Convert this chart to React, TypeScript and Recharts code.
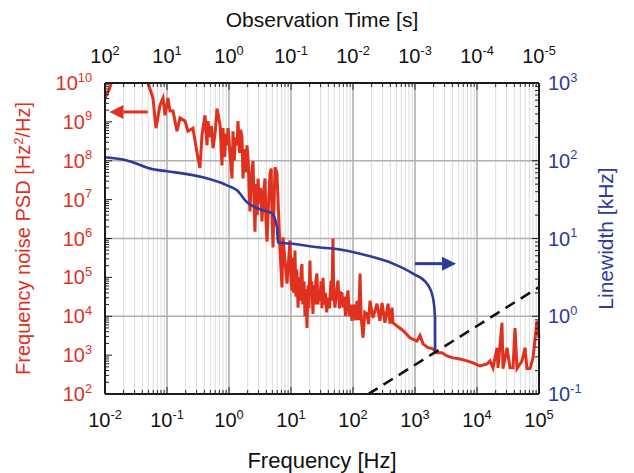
import React from 'react';
import { LineChart, Line, XAxis, YAxis, CartesianGrid, ReferenceLine, Label } from 'recharts';

const RED = '#e0311f';
const BLUE = '#2d3b9b';
const FONT = '"Liberation Sans", Arial, Helvetica, sans-serif';

// frequency noise PSD [Hz^2/Hz] vs Fourier frequency [Hz]
const psdFreq = [
  0.01, 0.0116, 0.0135, 0.0174, 0.0367, 0.0494, 0.0594, 0.0665, 0.0771, 0.0861,
  0.0929, 0.1038, 0.1117, 0.125, 0.145, 0.162, 0.195, 0.218, 0.262, 0.316,
  0.34, 0.367, 0.41, 0.442, 0.458, 0.49, 0.519, 0.552, 0.596, 0.64,
  0.716, 0.741, 0.771, 0.8, 0.851, 0.891, 0.929, 0.964, 1.117, 1.161,
  1.216, 1.274, 1.346, 1.396, 1.479, 1.549, 1.622, 1.683, 1.778, 1.862,
  1.95, 2.042, 2.113, 2.18, 2.291, 2.44, 2.512, 2.62, 2.754, 2.851,
  2.94, 3.09, 3.236, 3.4, 3.589, 3.81, 3.936, 4.1, 4.315, 4.58,
  4.786, 4.955, 5.13, 5.52, 5.94, 6.65, 7.16, 7.43, 8.61, 9.64,
  10.0, 10.4, 10.7, 11.1, 11.6, 12.0, 12.4, 13.0, 13.5, 14.0,
  14.5, 15.0, 15.5, 16.2, 16.8, 17.4, 18.1, 18.8, 19.5, 20.2,
  20.9, 21.6, 22.6, 23.4, 24.3, 25.1, 26.2, 27.2, 28.2, 29.4,
  30.5, 31.6, 32.8, 34.3, 35.9, 37.6, 39.5, 41.7, 44.2, 45.7,
  47.5, 49.0, 51.3, 53.7, 57.3, 60.3, 63.1, 66.5, 69.0, 72.4,
  75.9, 79.4, 83.0, 87.1, 91.2, 96.4, 102, 110, 116, 123,
  130, 135, 145, 155, 168, 178, 188, 210, 244, 272,
  294, 328, 367, 395, 426, 442, 513, 640, 830, 1076,
  1205, 1346, 1622, 1950, 2265, 2720, 3280, 4100, 5320, 6900,
  8610, 11170, 14490, 16220, 18110, 21040, 21830, 25290, 26240, 30480,
  34040, 38110, 41020, 44160, 53210, 59430, 63970, 71610, 79980, 92900,
  100000,
];
const psdValue = [
  4.1e9, 6.6e9, 1.35e10, 4e10, 4e10, 1.0e10, 4.1e9, 6.9e8, 2.7e9, 4.1e9,
  1.48e9, 4.1e9, 1.9e9, 1.9e9, 5.75e8, 1.26e9, 1.05e9, 5.75e8, 6.9e8, 1.15e8,
  6.5e7, 4.6e8, 1.48e9, 2.5e8, 1.05e9, 4e8, 7.9e8, 2.1e8, 5e8, 2.2e9,
  8.3e8, 3.2e8, 7.6e7, 6.9e8, 1.26e8, 5e8, 2.5e8, 6.9e8, 3.5e7, 5.75e8,
  1e8, 4e8, 2.5e8, 1.05e9, 1.6e8, 6.3e8, 3.8e8, 3.5e7, 2e8, 5e7,
  2.5e8, 1e8, 1.6e7, 5e6, 4e7, 9.8e7, 1.6e7, 1.5e6, 2.5e7, 4e6,
  3.5e7, 7.9e6, 2e7, 2.75e6, 1.26e7, 3.5e7, 3.2e6, 8.3e5, 6.3e6, 4.5e7,
  6.3e7, 3.2e6, 5.9e5, 6.8e7, 4.8e7, 4.9e5, 5.5e4, 1.07e6, 6.9e4, 8.9e5,
  7.9e4, 4.6e4, 3.2e5, 4.0e4, 4.9e5, 3.2e4, 1.6e5, 1.66e4, 1.0e5, 2.5e4,
  1.26e5, 2.2e5, 2.0e4, 7.9e4, 1.0e4, 5.0e4, 5.0e3, 6.3e4, 1.6e4, 2.7e5,
  3.2e4, 7.9e4, 1.15e4, 6.3e4, 2.0e4, 7.9e4, 1.26e5, 2.0e4, 5.0e4, 2.5e4,
  7.9e4, 1.6e4, 9.8e4, 2.0e4, 4.0e4, 1.26e4, 3.0e4, 1.6e4, 8.3e4, 2.5e4,
  1.0e6, 3.2e4, 1.66e4, 4.0e4, 8.3e4, 1.6e4, 4.0e4, 3.8e4, 1.66e4, 3.2e4,
  1.0e4, 2.5e4, 4.6e4, 1.0e4, 2.0e4, 7.6e3, 2.0e4, 7.9e3, 2.5e4, 7.9e3,
  1.26e5, 1.0e4, 2.8e3, 1.26e4, 1.15e4, 6.3e3, 2.5e4, 9.1e3, 2.1e4, 7.6e3,
  2.2e4, 6.8e3, 2.1e4, 6.5e3, 1.66e4, 6.8e3, 5.6e3, 4.3e3, 2.8e3, 2.3e3,
  3.2e3, 1.95e3, 1.55e3, 1.45e3, 1.15e3, 1.15e3, 955, 850, 795, 710,
  630, 525, 590, 710, 470, 1550, 470, 6800, 450, 1550,
  470, 470, 5000, 450, 710, 1550, 450, 450, 850, 7600,
  2800,
];

// laser linewidth [kHz] vs observation frequency [Hz]
const lwFreq = [
  0.01, 0.0226, 0.0594, 0.1, 0.38, 0.929, 1.346, 1.95, 3.53, 4.94,
  5.94, 6.17, 9.64, 29.4, 47.5, 168, 442, 929, 1563, 1950,
  2104, 2113,
];
const lwValue = [
  111, 101, 77.6, 73.3, 61.2, 48.3, 41.6, 29.2, 23.0, 21.0,
  13.9, 8.87, 8.61, 7.66, 7.43, 6.04, 4.75, 3.53, 2.62, 1.73,
  0.957, 0.338,
];

// beta-separation line [Hz^2/Hz]
const betaFreq = [100, 100000];
const betaValue = [56.2, 56200];

// annotation arrows (tail, tip)
const psdArrow = [{ x: 0.049, y: 1.8e9 }, { x: 0.0118, y: 1.8e9 }];
const lwArrow = [{ x: 1000, y: 4.75 }, { x: 4600, y: 4.75 }];

const freqDecades = [-2, -1, 0, 1, 2, 3, 4, 5];
const psdDecades = [2, 3, 4, 5, 6, 7, 8, 9, 10];
const lwDecades = [-1, 0, 1, 2, 3];
const minorSteps = [2, 3, 4, 5, 6, 7, 8, 9];

const majors = (decades: number[]) => decades.map((d) => Math.pow(10, d));
const withMinor = (decades: number[]) => {
  const out: number[] = [];
  decades.forEach((d, i) => {
    out.push(Math.pow(10, d));
    if (i < decades.length - 1) minorSteps.forEach((m) => out.push(m * Math.pow(10, d)));
  });
  return out;
};

const expOf = (v: number) => Math.round(Math.log10(v));
const isMajor = (v: number) => Math.abs(Math.log10(v) - expOf(v)) < 1e-9;

const psdData = psdFreq.map((f, i) => ({ f, v: psdValue[i] }));
const lwData = lwFreq.map((f, i) => ({ f, v: lwValue[i] }));
const betaData = betaFreq.map((f, i) => ({ f, v: betaValue[i] }));

const Pow = ({ x, y, exp, anchor, fill, size = 20 }: any) => (
  <text x={x} y={y} textAnchor={anchor} fill={fill} fontSize={size} fontFamily={FONT}>
    10
    <tspan dy={-size * 0.42} fontSize={size * 0.64}>
      {exp}
    </tspan>
  </text>
);

const BottomTick = (props: any) => {
  const { x, y, payload } = props;
  const major = isMajor(payload.value);
  return (
    <g>
      <line x1={x} x2={x} y1={y} y2={y - (major ? 7 : 4)} stroke="#222" strokeWidth={1} />
      {major && <Pow x={x} y={y + 33} exp={expOf(payload.value)} anchor="middle" fill="#111" />}
    </g>
  );
};

const TopTick = (props: any) => {
  const { x, y, payload } = props;
  const major = isMajor(payload.value);
  return (
    <g>
      <line x1={x} x2={x} y1={y} y2={y + (major ? 7 : 4)} stroke="#222" strokeWidth={1} />
      {major && <Pow x={x} y={y - 20} exp={-expOf(payload.value)} anchor="middle" fill="#111" />}
    </g>
  );
};

const LeftTick = (props: any) => {
  const { x, y, payload } = props;
  const major = isMajor(payload.value);
  return (
    <g>
      <line x1={x} x2={x + (major ? 7 : 4)} y1={y} y2={y} stroke="#222" strokeWidth={1} />
      {major && <Pow x={x - 13} y={y + 7} exp={expOf(payload.value)} anchor="end" fill={RED} />}
    </g>
  );
};

const RightTick = (props: any) => {
  const { x, y, payload } = props;
  const major = isMajor(payload.value);
  return (
    <g>
      <line x1={x} x2={x - (major ? 7 : 4)} y1={y} y2={y} stroke="#222" strokeWidth={1} />
      {major && <Pow x={x + 9} y={y + 7} exp={expOf(payload.value)} anchor="start" fill={BLUE} />}
    </g>
  );
};

const arrowShape = (color: string) => (props: any) => {
  const { x1, y1, x2, y2 } = props;
  const dx = x2 - x1;
  const dy = y2 - y1;
  const len = Math.sqrt(dx * dx + dy * dy) || 1;
  const ux = dx / len;
  const uy = dy / len;
  const bx = x2 - ux * 14;
  const by = y2 - uy * 14;
  const px = -uy * 7;
  const py = ux * 7;
  return (
    <g>
      <line x1={x1} y1={y1} x2={bx} y2={by} stroke={color} strokeWidth={3} />
      <polygon points={`${x2},${y2} ${bx + px},${by + py} ${bx - px},${by - py}`} fill={color} />
    </g>
  );
};

const bottomTitle = (props: any) => {
  const vb = props.viewBox;
  return (
    <text x={vb.x + vb.width / 2} y={vb.y + 74} textAnchor="middle" fontSize={22} fontFamily={FONT} fill="#111">
      Frequency [Hz]
    </text>
  );
};

const topTitle = (props: any) => {
  const vb = props.viewBox;
  return (
    <text x={vb.x + vb.width / 2} y={vb.y - 16} textAnchor="middle" fontSize={21} fontFamily={FONT} fill="#111">
      Observation Time [s]
    </text>
  );
};

const leftTitle = (props: any) => {
  const vb = props.viewBox;
  const cx = vb.x - 15;
  const cy = vb.y + vb.height / 2;
  return (
    <text x={cx} y={cy} textAnchor="middle" fontSize={20} fontFamily={FONT} fill={RED} transform={`rotate(-90, ${cx}, ${cy})`}>
      Frequency noise PSD [Hz
      <tspan dy={-7} fontSize={13}>2</tspan>
      <tspan dy={7}>/Hz]</tspan>
    </text>
  );
};

const rightTitle = (props: any) => {
  const vb = props.viewBox;
  const cx = vb.x + 74;
  const cy = vb.y + vb.height / 2;
  return (
    <text x={cx} y={cy} textAnchor="middle" fontSize={21} fontFamily={FONT} fill={BLUE} transform={`rotate(-90, ${cx}, ${cy})`}>
      Linewidth [kHz]
    </text>
  );
};

export default function App() {
  const axisLine = { stroke: '#1a1a1a', strokeWidth: 2 };
  return (
    <div style={{ position: 'absolute', left: 0, top: 0 }}>
      <LineChart width={634} height={473} margin={{ top: 43, right: 35, bottom: 39, left: 45 }}>
        <XAxis
          xAxisId="b"
          dataKey="f"
          type="number"
          scale="log"
          domain={[0.01, 100000]}
          ticks={withMinor(freqDecades)}
          interval={0}
          orientation="bottom"
          height={40}
          tickSize={0}
          tickMargin={0}
          tickLine={false}
          axisLine={axisLine}
          tick={<BottomTick />}
        >
          <Label content={bottomTitle} />
        </XAxis>
        <XAxis
          xAxisId="t"
          dataKey="f"
          type="number"
          scale="log"
          domain={[0.01, 100000]}
          ticks={withMinor(freqDecades)}
          interval={0}
          orientation="top"
          height={40}
          tickSize={0}
          tickMargin={0}
          tickLine={false}
          axisLine={axisLine}
          tick={<TopTick />}
        >
          <Label content={topTitle} />
        </XAxis>
        <YAxis
          yAxisId="psd"
          type="number"
          scale="log"
          domain={[100, 1e10]}
          allowDataOverflow
          ticks={withMinor(psdDecades)}
          interval={0}
          orientation="left"
          width={60}
          tickSize={0}
          tickMargin={0}
          tickLine={false}
          axisLine={axisLine}
          tick={<LeftTick />}
        >
          <Label content={leftTitle} />
        </YAxis>
        <YAxis
          yAxisId="lw"
          type="number"
          scale="log"
          domain={[0.1, 1000]}
          allowDataOverflow
          ticks={withMinor(lwDecades)}
          interval={0}
          orientation="right"
          width={60}
          tickSize={0}
          tickMargin={0}
          tickLine={false}
          axisLine={axisLine}
          tick={<RightTick />}
        >
          <Label content={rightTitle} />
        </YAxis>

        <CartesianGrid xAxisId="b" yAxisId="lw" horizontal={false} stroke="#dcdcdc" strokeWidth={1} />
        <CartesianGrid
          xAxisId="b"
          yAxisId="lw"
          verticalValues={majors(freqDecades)}
          horizontalValues={majors(lwDecades)}
          stroke="#b0b0b0"
          strokeWidth={1.5}
        />

        <Line xAxisId="b" yAxisId="psd" data={psdData} dataKey="v" type="linear" stroke={RED} strokeWidth={3} dot={false} isAnimationActive={false} />
        <Line xAxisId="t" yAxisId="lw" data={lwData} dataKey="v" type="monotone" stroke={BLUE} strokeWidth={2.6} dot={false} isAnimationActive={false} />
        <Line xAxisId="b" yAxisId="psd" data={betaData} dataKey="v" type="linear" stroke="#111" strokeWidth={2.6} strokeDasharray="11 7" dot={false} isAnimationActive={false} />

        <ReferenceLine xAxisId="b" yAxisId="psd" segment={psdArrow} ifOverflow="visible" shape={arrowShape(RED)} />
        <ReferenceLine xAxisId="b" yAxisId="lw" segment={lwArrow} ifOverflow="visible" shape={arrowShape(BLUE)} />
      </LineChart>
    </div>
  );
}
